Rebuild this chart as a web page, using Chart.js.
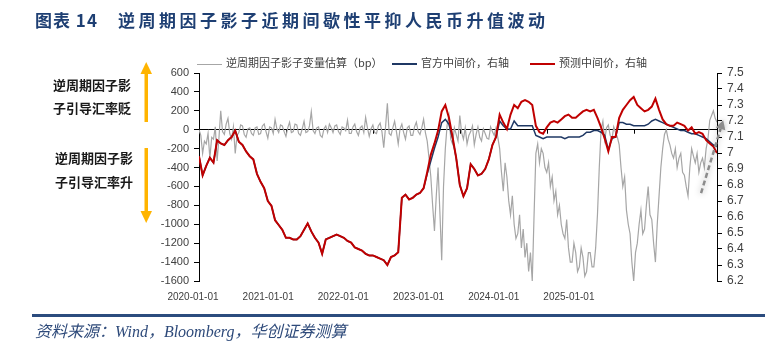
<!DOCTYPE html>
<html>
<head>
<meta charset="utf-8">
<script src="https://cdn.jsdelivr.net/npm/chart.js@4.4.0/dist/chart.umd.min.js"></script>
<style>
    body { margin: 0; width: 765px; height: 349px; position: relative; overflow: hidden; background: #fff;
           font-family: "Noto Sans CJK SC", sans-serif; }
    #chart { position: absolute; left: 0; top: 0; }
    .abs { position: absolute; white-space: nowrap; }
    .title { top: 8px; font-size: 17px; font-weight: bold; color: #1e3f73; letter-spacing: 3.5px; line-height: 24px; }
    .note { font-size: 13px; font-weight: bold; color: #1a1a1a; line-height: 16px; }
    .legend { top: 54px; font-size: 11px; color: #404040; line-height: 16px; }
    .legend i { display: inline-block; width: 25px; vertical-align: middle; margin-right: 4px; }
    .source { left: 35px; top: 318px; font-size: 16px; font-style: italic; color: #2e4a7a;
              font-family: "Liberation Serif", "Noto Sans CJK SC", serif; }
    .rule { left: 32px; top: 314px; width: 733px; height: 3px; background: #2b4c7e; }
</style>
</head>
<body>
<canvas id="chart" width="765" height="349"></canvas>

<div class="abs title" style="left:35px;letter-spacing:1px">图表 14</div>
<div class="abs title" style="left:118px">逆周期因子影子近期间歇性平抑人民币升值波动</div>

<div class="abs legend" style="left:197px"><i style="border-top:1.5px solid #a6a6a6"></i>逆周期因子影子变量估算（bp）</div>
<div class="abs legend" style="left:392px"><i style="border-top:2px solid #1f3864"></i>官方中间价，右轴</div>
<div class="abs legend" style="left:530px"><i style="border-top:2px solid #c00000"></i>预测中间价，右轴</div>

<svg class="abs" style="left:0;top:0" width="200" height="240">
    <rect x="144.5" y="72" width="3.5" height="50" fill="#ffb400"/>
    <polygon points="146.2,62 140.5,74 152,74" fill="#ffb400"/>
    <rect x="144.5" y="148" width="3.5" height="64" fill="#ffb400"/>
    <polygon points="140.5,211 152,211 146.2,223" fill="#ffb400"/>
</svg>
<div class="abs note" style="left:53px;top:77px">逆周期因子影</div>
<div class="abs note" style="left:53px;top:100px">子引导汇率贬</div>
<div class="abs note" style="left:55px;top:150px">逆周期因子影</div>
<div class="abs note" style="left:55px;top:174px">子引导汇率升</div>

<div class="abs rule"></div>
<div class="abs source">资料来源：Wind，Bloomberg，华创证券测算</div>

<script>
// x runs in half-month steps: 0 = 2020-01 first half, 143 = 2025-12 second half
const lastPeriod = 143;
const periodsPerYear = 24;

const xTickLabels = ["2020-01-01", "2021-01-01", "2022-01-01", "2023-01-01", "2024-01-01", "2025-01-01"];

// shadow counter-cyclical factor estimate, bp (left axis), quarter-month readings
const shadowFactor = [
    0, -60, -250, -120, -150, -40, -300, -80, -100, 30,
    -330, -90, 200, -20, -50, 60, 120, -40, -100, 30,
    -250, -60, -30, 50, 40, -50, -80, 10, 20, -40,
    -60, 20, 30, -50, -40, 40, 60, -20, -90, 30,
    20, -40, 110, 10, -30, 50, 40, -20, -70, 20,
    80, -30, -20, 60, 50, -40, -60, 10, 90, -30,
    -20, 40, 190, -10, -40, 20, 30, -60, -80, 10,
    40, -30, 60, 20, -30, 40, 50, -20, -50, 30,
    20, -10, 100, -40, -40, 30, 60, -20, -60, 20,
    40, -30, 130, 20, -70, 10, 50, -30, -40, 40,
    70, -20, -190, 30, 280, -40, -60, 20, 90, -20,
    -150, 10, 60, -30, -100, 20, 40, -60, -60, 30,
    80, -20, -50, 20, 110, -30, -120, -300, -500, -800,
    -1070, -700, -400, -870, -1380, -600, -200, 50, 150, -100,
    -150, 20, -50, -120, 150, -30, -100, 20, -150, -60,
    -20, 40, -160, -50, 30, -80, -120, 10, -40, -90,
    -100, 30, -20, -60, 20, -80, -200, -450, -650, -350,
    -500, -750, -900, -700, -1000, -1150, -1100, -900, -1250, -1050,
    -1350, -1200, -1500, -1300, -1600, -900, -250, -150, -350, -200,
    -250, -400, -450, -350, -600, -500, -750, -650, -900, -800,
    -1000, -1100, -1150, -950, -1250, -1400, -1400, -1200, -1300, -1500,
    -1450, -1250, -1350, -1550, -1500, -1300, -1300, -1450, -1450, -1250,
    -900, -400, 0, 90, -110, 20, 50, -60, -100, 30,
    -30, -80, -160, -400, -600, -500, -850, -1000, -1100, -1400,
    -1600, -1300, -1200, -1000, -850, -1100, -1050, -800, -600, -900,
    -950, -1200, -1400, -1000, -700, -400, -200, -50, 0, -100,
    -160, -250, -300, -200, -400, -300, -250, -450, -480, -600,
    -700, -400, -200, -280, -350, -250, -450, -350, -300, -400,
    -200, -100, 100, 150, 200, 120, 80
];

// official CNY central parity (right axis), half-month readings
const officialFix = [
    6.98, 6.86, 6.92, 6.97, 6.94, 7.08, 7.06, 7.05, 7.08, 7.10,
    7.14, 7.07, 7.05, 7.01, 6.98, 6.96, 6.87, 6.82, 6.78, 6.70,
    6.67, 6.58, 6.55, 6.52, 6.47, 6.47, 6.46, 6.46, 6.48, 6.52,
    6.56, 6.51, 6.47, 6.44, 6.37, 6.46, 6.47, 6.48, 6.49, 6.48,
    6.47, 6.45, 6.44, 6.41, 6.40, 6.39, 6.37, 6.36, 6.36, 6.35,
    6.34, 6.33, 6.30, 6.35, 6.36, 6.38, 6.72, 6.74, 6.71, 6.72,
    6.74, 6.75, 6.78, 6.87, 6.95, 7.03, 7.10, 7.19, 7.21, 7.18,
    7.09, 6.97, 6.80, 6.73, 6.78, 6.93, 6.90, 6.86, 6.87, 6.90,
    6.96, 7.05, 7.10, 7.20, 7.17, 7.15, 7.15, 7.20, 7.17, 7.17,
    7.17, 7.17, 7.17, 7.11, 7.10, 7.09, 7.10, 7.10, 7.10, 7.10,
    7.10, 7.09, 7.10, 7.10, 7.10, 7.10, 7.11, 7.13, 7.13, 7.14,
    7.14, 7.13, 7.11, 7.02, 7.09, 7.10, 7.19, 7.19, 7.18, 7.18,
    7.17, 7.17, 7.17, 7.17, 7.18, 7.20, 7.21, 7.20, 7.19, 7.18,
    7.17, 7.16, 7.15, 7.14, 7.14, 7.13, 7.12, 7.12, 7.11, 7.10,
    7.09, 7.07, 7.05, 7.04
];

// model-predicted central parity (right axis), half-month readings
const predictedFix = [
    6.98, 6.86, 6.92, 6.97, 6.94, 7.08, 7.06, 7.05, 7.08, 7.10,
    7.14, 7.07, 7.05, 7.01, 6.98, 6.96, 6.87, 6.82, 6.78, 6.70,
    6.67, 6.58, 6.55, 6.52, 6.47, 6.47, 6.46, 6.46, 6.48, 6.52,
    6.56, 6.51, 6.47, 6.44, 6.37, 6.46, 6.47, 6.48, 6.49, 6.48,
    6.47, 6.45, 6.44, 6.41, 6.40, 6.39, 6.37, 6.36, 6.36, 6.35,
    6.34, 6.33, 6.30, 6.35, 6.36, 6.38, 6.72, 6.74, 6.71, 6.72,
    6.74, 6.75, 6.78, 6.88, 6.99, 7.06, 7.14, 7.26, 7.30, 7.22,
    7.10, 6.97, 6.80, 6.73, 6.78, 6.93, 6.90, 6.86, 6.87, 6.90,
    6.96, 7.05, 7.10, 7.24, 7.19, 7.15, 7.24, 7.30, 7.28, 7.32,
    7.33, 7.32, 7.30, 7.17, 7.13, 7.12, 7.16, 7.19, 7.20, 7.19,
    7.21, 7.23, 7.24, 7.22, 7.22, 7.24, 7.26, 7.27, 7.26, 7.27,
    7.22, 7.16, 7.09, 7.01, 7.10, 7.10, 7.22, 7.27, 7.30, 7.33,
    7.35, 7.30, 7.28, 7.26, 7.27, 7.29, 7.34, 7.27, 7.21, 7.18,
    7.17, 7.17, 7.19, 7.18, 7.17, 7.14, 7.16, 7.12, 7.13, 7.12,
    7.08, 7.06, 7.04, 7.00
];

// dashed trend arrow at the right end: [half-month position, bp]
const trendFrom = [138.6, -670];
const trendTo = [144.7, 100];

const halfMonthPoints = arr => arr.map((v, i) => ({ x: i, y: v }));
const quarterMonthPoints = arr => arr.map((v, i) => ({ x: i / 2, y: v }));

// small tick marks on the zero line at each new year
const yearTicks = {
    id: "yearTicks",
    beforeDatasetsDraw(chart) {
        const { ctx, scales: { x, yL } } = chart;
        const y0 = yL.getPixelForValue(0);
        ctx.save();
        ctx.strokeStyle = "#000";
        ctx.lineWidth = 1;
        for (let p = 0; p <= lastPeriod; p += periodsPerYear) {
            const px = Math.round(x.getPixelForValue(p)) + 0.5;
            ctx.beginPath();
            ctx.moveTo(px, y0);
            ctx.lineTo(px, y0 + 4);
            ctx.stroke();
        }
        ctx.restore();
    }
};

const trendArrow = {
    id: "trendArrow",
    afterDatasetsDraw(chart) {
        const { ctx, scales: { x, yL } } = chart;
        const x1 = x.getPixelForValue(trendFrom[0]), y1 = yL.getPixelForValue(trendFrom[1]);
        const x2 = x.getPixelForValue(trendTo[0]), y2 = yL.getPixelForValue(trendTo[1]);
        const a = Math.atan2(y2 - y1, x2 - x1);
        const head = 9;
        ctx.save();
        ctx.shadowColor = "rgba(0,0,0,0.35)";
        ctx.shadowBlur = 6;
        ctx.strokeStyle = "#8c8c8c";
        ctx.fillStyle = "#8c8c8c";
        ctx.lineWidth = 2.5;
        ctx.setLineDash([5, 3]);
        ctx.beginPath();
        ctx.moveTo(x1, y1);
        ctx.lineTo(x2 - head * Math.cos(a), y2 - head * Math.sin(a));
        ctx.stroke();
        ctx.setLineDash([]);
        ctx.beginPath();
        ctx.moveTo(x2, y2);
        ctx.lineTo(x2 - head * Math.cos(a) + 5 * Math.sin(a), y2 - head * Math.sin(a) - 5 * Math.cos(a));
        ctx.lineTo(x2 - head * Math.cos(a) - 5 * Math.sin(a), y2 - head * Math.sin(a) + 5 * Math.cos(a));
        ctx.closePath();
        ctx.fill();
        ctx.restore();
    }
};

const tickFont = { family: "'Liberation Sans', Arial, sans-serif", size: 11 };

new Chart(document.getElementById("chart"), {
    type: "line",
    data: {
        datasets: [
            { label: "预测中间价，右轴", data: halfMonthPoints(predictedFix), yAxisID: "yR", borderColor: "#c00000", borderWidth: 2, order: 1 },
            { label: "官方中间价，右轴", data: halfMonthPoints(officialFix), yAxisID: "yR", borderColor: "#1f3864", borderWidth: 1.5, order: 2 },
            { label: "逆周期因子影子变量估算（bp）", data: quarterMonthPoints(shadowFactor), yAxisID: "yL", borderColor: "#a6a6a6", borderWidth: 1.2, order: 3 }
        ]
    },
    options: {
        responsive: false,
        animation: false,
        layout: { padding: { left: 159, right: 8, top: 73, bottom: 38 } },
        elements: { point: { radius: 0 }, line: { tension: 0 } },
        plugins: { legend: { display: false }, tooltip: { enabled: false } },
        scales: {
            x: { type: "linear", display: false, min: 0, max: lastPeriod },
            xl: {
                type: "linear",
                position: "bottom",
                min: 0.08,
                max: 6.97,
                grid: { display: false, drawTicks: false },
                border: { display: false },
                afterBuildTicks: s => { s.ticks = xTickLabels.map((_, i) => ({ value: i })); },
                afterFit: s => { s.height = 30; },
                ticks: {
                    autoSkip: false, maxRotation: 0, padding: 10, color: "#404040",
                    font: { family: "'Liberation Sans', Arial, sans-serif", size: 10 },
                    callback: v => xTickLabels[v]
                }
            },
            yL: {
                position: "left",
                min: -1600,
                max: 600,
                afterFit: s => { s.width = 40; },
                ticks: { stepSize: 200, autoSkip: false, padding: 5, color: "#404040", font: tickFont, callback: v => String(v) },
                grid: {
                    color: c => (c.tick && c.tick.value === 0 ? "#000" : "rgba(0,0,0,0)"),
                    tickColor: "#000",
                    tickLength: 5
                },
                border: { color: "#000" }
            },
            yR: {
                position: "right",
                min: 6.2,
                max: 7.5,
                afterFit: s => { s.width = 40; },
                ticks: { stepSize: 0.1, autoSkip: false, padding: 5, color: "#404040", font: { ...tickFont, size: 12 },
                         callback: v => String(+v.toFixed(1)) },
                grid: { drawOnChartArea: false, tickColor: "#000", tickLength: 5 },
                border: { color: "#000" }
            }
        }
    },
    plugins: [yearTicks, trendArrow]
});
</script>
</body>
</html>
